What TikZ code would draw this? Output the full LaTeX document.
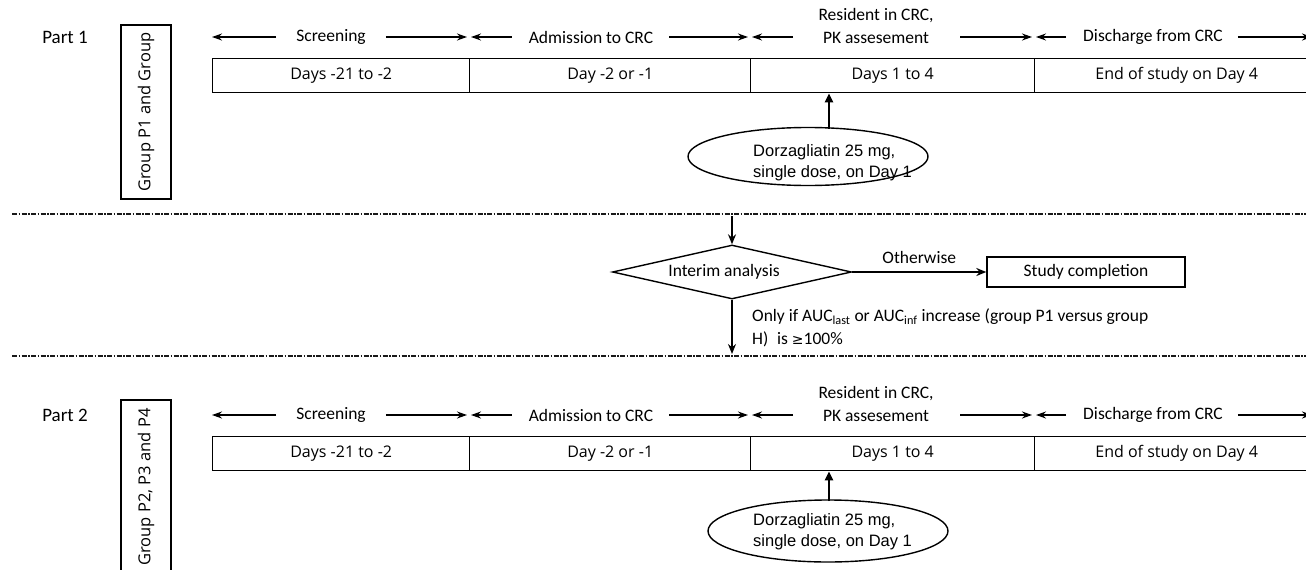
\documentclass[tikz,border=0pt]{standalone}
\usepackage{fontspec}
\setmainfont{Carlito}
\newfontfamily\boxfont{Open Sans}
\newfontfamily\ellfont{Liberation Sans}
\newfontfamily\symfont{DejaVu Sans}
\usetikzlibrary{arrows.meta,shapes.geometric}
\begin{document}
\begin{tikzpicture}[x=1pt,y=-1pt,
  lbl/.style={font=\fontsize{17.5}{23}\selectfont, inner sep=0pt},
  cell/.style={draw, line width=1.4pt, font=\boxfont\fontsize{16}{19}\selectfont,
    minimum height=34pt, inner sep=0pt, anchor=north west},
  grp/.style={draw, line width=1.4pt, rotate=90, minimum width=174pt, minimum height=50pt,
    inner sep=0pt, font=\boxfont\fontsize{16.5}{19}\selectfont},
  tl/.style={line width=1.4pt, -{Stealth[length=10pt,width=7pt]}},
  thk/.style={line width=2.6pt, -{Triangle[length=9pt,width=8pt]}},
  arr/.style={line width=1.5pt, -{Stealth[length=10pt,width=8pt]}},
  ell/.style={draw, ellipse, line width=1.4pt, minimum width=240pt, inner sep=0pt},
  elltxt/.style={anchor=west, align=left, inner sep=0pt, font=\ellfont\fontsize{16.5}{21}\selectfont},
  dline/.style={line width=1.2pt, black!90, dash pattern=on 5pt off 1.5pt on 1.5pt off 1.5pt},
  mid/.style={font=\fontsize{17.5}{23}\selectfont}
]
\useasboundingbox (0,0) rectangle (1306,570);
\clip (0,0) rectangle (1306,570);

\foreach \p/\yo/\ex/\ey/\eh/\ty/\gy/\gt in {1/0/808/156.5/58/163/112/{Group P1 and Group}, 2/378/828/531/62/532/487/{Group P2, P3 and P4}}{
  \node[lbl, font=\fontsize{19}{23}\selectfont] (part\p) at (65,37+\yo) {Part \p};
  \node[grp] (grp\p) at (146,\gy) {\gt};
  % cells
  \node[cell, minimum width=257pt] (c1\p) at (212,58+\yo) {Days -21 to -2};
  \node[cell, minimum width=281pt] (c2\p) at (469,58+\yo) {Day -2 or -1};
  \node[cell, minimum width=284pt] (c3\p) at (750,58+\yo) {Days 1 to 4};
  \node[cell, minimum width=284pt] (c4\p) at (1034,58+\yo) {End of study on Day 4};
  % labels
  \node[lbl] (scr\p) at (331,37+\yo) {Screening};
  \node[lbl] (adm\p) at (591,37+\yo) {Admission to CRC};
  \node[lbl, align=center] (res\p) at (876,26+\yo) {Resident in CRC,\\PK assesement};
  \coordinate (resy\p) at (876,37+\yo);
  \node[lbl] (dis\p) at (1153,37+\yo) {Discharge from CRC};
  \coordinate (end\p) at (1312,37+\yo);
  % timeline arrows
  \draw[tl] ([xshift=-20pt]scr\p.west) -- ([xshift=0pt]scr\p.west -| c1\p.west);
  \draw[tl] ([xshift=20pt]scr\p.east) -- ([xshift=-2pt]scr\p.east -| c2\p.west);
  \draw[tl] ([xshift=-17pt]adm\p.west) -- ([xshift=2pt]adm\p.west -| c2\p.west);
  \draw[tl] ([xshift=16pt]adm\p.east) -- ([xshift=-2pt]adm\p.east -| c3\p.west);
  \draw[tl] (793,37+\yo) -- ([xshift=2pt]resy\p -| c3\p.west);
  \draw[tl] (960,37+\yo) -- ([xshift=-2pt]resy\p -| c4\p.west);
  \draw[tl] ([xshift=-17pt]dis\p.west) -- ([xshift=2pt]dis\p.west -| c4\p.west);
  \draw[tl] ([xshift=15pt]dis\p.east) -- (end\p);
  % dose
  \node[ell, minimum height=\eh pt] (e\p) at (\ex,\ey) {};
  \node[elltxt] (et\p) at (753,\ty) {Dorzagliatin 25 mg,\\single dose, on Day 1};
  \coordinate (up\p) at (829,\ey-\eh/2+1);
  \draw[thk] (up\p) -- (up\p |- c3\p.south);
}

% separators
\coordinate (s1a) at (12,214); \coordinate (s1b) at (1306,214);
\coordinate (s2a) at (12,356); \coordinate (s2b) at (1306,356);
\draw[dline] (s1a) -- (s1b);
\draw[dline] (s2a) -- (s2b);

% interim analysis
\node[draw, diamond, aspect=4.4, minimum width=239pt, minimum height=54pt, inner sep=0pt,
  line width=1.4pt, mid] (dia) at (732,272) {\hspace*{-16pt}Interim analysis};
\coordinate (d1) at (732,216);
\coordinate (d2) at (732,354);
\draw[arr] (d1) -- (dia.north);
\node[draw, line width=1.4pt, minimum width=198pt, minimum height=30pt, inner sep=0pt, mid] (sc) at (1086,272) {Study completion};
\draw[arr] (dia.east) -- (sc.west) node[midway, above=4pt, mid] {Otherwise};
\draw[arr] (dia.south) -- (d2);
\node[anchor=north west, align=left, inner sep=0pt, mid] (cond) at (752,309)
  {Only if AUC\textsubscript{last} or AUC\textsubscript{inf} increase (group P1 versus group\\H)\enspace is {\symfont\fontsize{14}{23}\selectfont ≥}100\%};
\end{tikzpicture}
\end{document}
